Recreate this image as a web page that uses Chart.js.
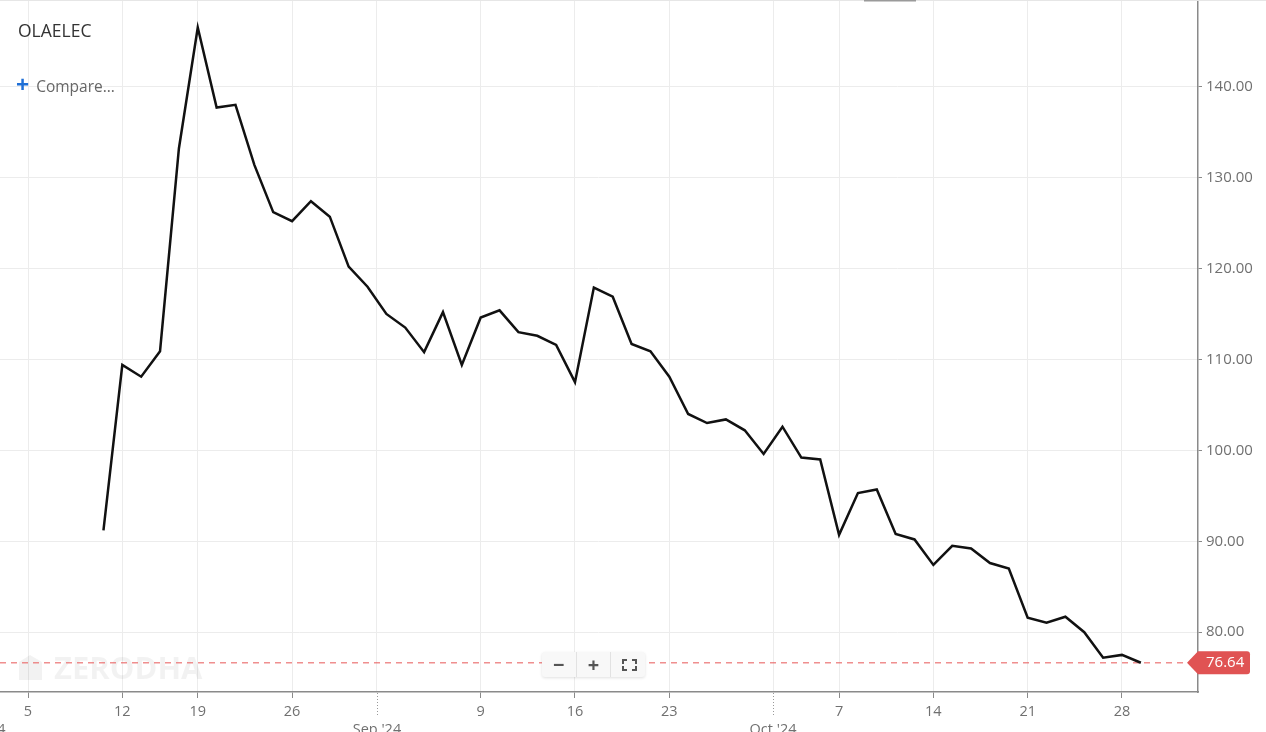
<!DOCTYPE html>
<html>
<head>
<meta charset="utf-8">
<script src="https://cdn.jsdelivr.net/npm/chart.js@4.4.1/dist/chart.umd.min.js"></script>
<style>
  body { margin: 0; background: #fff; font-family: 'Open Sans', sans-serif; }
  #wrap { position: relative; width: 1266px; height: 732px; overflow: hidden; }
  #sym { position: absolute; left: 18px; top: 18px; font-size: 17.5px; color: #333; line-height: 24px; }
  #cmp { position: absolute; left: 16px; top: 73px; font-size: 15.5px; color: #666; line-height: 22px; }
  #cmp b { color: #1f6fd6; font-size: 23px; margin-right: 7px; font-weight: 700; vertical-align: -1px; }
  #zoomer { position: absolute; left: 542px; top: 652px; width: 103px; height: 25px; background: #f8f8f8;
    border-radius: 3px; box-shadow: 0 1px 3px rgba(0,0,0,0.12); display: flex; }
  #zoomer span { flex: 1; text-align: center; font-size: 20px; line-height: 25px; font-weight: 700; color: #555; }
  #zoomer span + span { border-left: 1px solid #e2e2e2; }
  .fs { position: relative; }
  .fs i { position: absolute; width: 3px; height: 3px; border: 0 solid #555; }
</style>
</head>
<body>
<div id="wrap">
  <canvas id="chart" width="1266" height="732"></canvas>
  <div id="sym">OLAELEC</div>
  <div id="cmp"><b>+</b>Compare...</div>
  <div id="zoomer">
    <span>&minus;</span><span>+</span>
    <span class="fs">
      <i style="left:11px;top:7px;border-left-width:2px;border-top-width:2px"></i>
      <i style="left:21px;top:7px;border-right-width:2px;border-top-width:2px"></i>
      <i style="left:11px;top:14px;border-left-width:2px;border-bottom-width:2px"></i>
      <i style="left:21px;top:14px;border-right-width:2px;border-bottom-width:2px"></i>
    </span>
  </div>
</div>
<script>
// sessions before listing, only used to place the axis ticks
const preListing = ['2024-07-31', '2024-08-01', '2024-08-02', '2024-08-05', '2024-08-06', '2024-08-07', '2024-08-08']

const tradeDates = [
    '2024-08-09', '2024-08-12', '2024-08-13', '2024-08-14', '2024-08-16', '2024-08-19', '2024-08-20', '2024-08-21',
    '2024-08-22', '2024-08-23', '2024-08-26', '2024-08-27', '2024-08-28', '2024-08-29', '2024-08-30',
    '2024-09-02', '2024-09-03', '2024-09-04', '2024-09-05', '2024-09-06', '2024-09-09', '2024-09-10',
    '2024-09-11', '2024-09-12', '2024-09-13', '2024-09-16', '2024-09-17', '2024-09-18', '2024-09-19',
    '2024-09-20', '2024-09-23', '2024-09-24', '2024-09-25', '2024-09-26', '2024-09-27', '2024-09-30',
    '2024-10-01', '2024-10-03', '2024-10-04', '2024-10-07', '2024-10-08', '2024-10-09', '2024-10-10',
    '2024-10-11', '2024-10-14', '2024-10-15', '2024-10-16', '2024-10-17', '2024-10-18', '2024-10-21',
    '2024-10-22', '2024-10-23', '2024-10-24', '2024-10-25', '2024-10-28', '2024-10-29'
]

const closes = [
    91.2, 109.4, 108.1, 110.9, 133.2, 146.5, 137.7, 138.0,
    131.4, 126.2, 125.2, 127.4, 125.7, 120.2, 118.0,
    115.0, 113.5, 110.8, 115.2, 109.4, 114.6, 115.4,
    113.0, 112.6, 111.6, 107.5, 117.9, 116.9, 111.7,
    110.9, 108.1, 104.0, 103.0, 103.4, 102.2, 99.6,
    102.6, 99.2, 99.0, 90.7, 95.3, 95.7, 90.8,
    90.2, 87.4, 89.5, 89.2, 87.6, 87.0, 81.6,
    81.05, 81.7, 80.0, 77.2, 77.5, 76.64
]

const priceTicks = [80, 90, 100, 110, 120, 130, 140]
const monthNames = ['Jan', 'Feb', 'Mar', 'Apr', 'May', 'Jun', 'Jul', 'Aug', 'Sep', 'Oct', 'Nov', 'Dec']
const symbol = 'OLAELEC'

const sessions = preListing.concat(tradeDates)
const lastClose = closes[closes.length - 1]

// month boundaries sit between sessions, weekly ticks on Mondays
let monthTicks = []
let weekTicks = []
let tickLabels = new Map()
sessions.forEach(function(d, k) {
    let dt = new Date(d)
    if (k > 0 && new Date(sessions[k - 1]).getUTCMonth() !== dt.getUTCMonth()) {
        let v = k - 0.5
        monthTicks.push(v)
        tickLabels.set(v, ['', monthNames[dt.getUTCMonth()] + " '" + String(dt.getUTCFullYear()).slice(2)])
    }
})
sessions.forEach(function(d, k) {
    let dt = new Date(d)
    if (dt.getUTCDay() !== 1) return
    if (monthTicks.some(function(m) { return Math.abs(m - k) < 1 })) return
    weekTicks.push(k)
    tickLabels.set(k, String(dt.getUTCDate()))
})
const xTicks = monthTicks.concat(weekTicks).sort(function(a, b) { return a - b })

const points = closes.map(function(c, i) {
    return { x: preListing.length + i, y: c }
})

const font = "'Open Sans', sans-serif"

const decor = {
    id: 'decor',
    beforeDatasetsDraw(chart) {
        let ctx = chart.ctx
        let area = chart.chartArea
        let y = chart.scales.y.getPixelForValue(lastClose)
        ctx.save()
        // watermark
        ctx.fillStyle = 'rgba(0,0,0,0.05)'
        ctx.beginPath()
        ctx.moveTo(19, 680); ctx.lineTo(19, 662); ctx.lineTo(30, 655); ctx.lineTo(42, 662)
        ctx.lineTo(42, 680); ctx.closePath(); ctx.fill()
        ctx.font = 'bold 31px ' + font
        ctx.textBaseline = 'alphabetic'
        ctx.fillText('ZERODHA', 54, 679)
        // last price line
        ctx.strokeStyle = 'rgba(232,96,96,0.7)'
        ctx.lineWidth = 1.5
        ctx.setLineDash([6, 5])
        ctx.beginPath()
        ctx.moveTo(area.left, y)
        ctx.lineTo(1188, y)
        ctx.stroke()
        ctx.restore()
    },
    afterDraw(chart) {
        let ctx = chart.ctx
        let xs = chart.scales.x
        let y = chart.scales.y.getPixelForValue(lastClose)
        ctx.save()
        // top border and handle
        ctx.fillStyle = '#e6e6e6'
        ctx.fillRect(0, 0, 1266, 1)
        ctx.fillStyle = '#9a9a9a'
        ctx.fillRect(864, 0, 52, 1.5)
        // dotted month ticks
        ctx.strokeStyle = '#999'
        ctx.lineWidth = 1
        ctx.setLineDash([1, 2])
        monthTicks.forEach(function(v) {
            let px = Math.round(xs.getPixelForValue(v)) + 0.5
            ctx.beginPath()
            ctx.moveTo(px, xs.top + 1)
            ctx.lineTo(px, xs.top + 24)
            ctx.stroke()
        })
        ctx.setLineDash([])
        // price tag
        ctx.fillStyle = '#e05353'
        ctx.beginPath()
        ctx.moveTo(1187, y)
        ctx.lineTo(1198, y - 11.5)
        ctx.lineTo(1247, y - 11.5)
        ctx.quadraticCurveTo(1250, y - 11.5, 1250, y - 8.5)
        ctx.lineTo(1250, y + 8.5)
        ctx.quadraticCurveTo(1250, y + 11.5, 1247, y + 11.5)
        ctx.lineTo(1198, y + 11.5)
        ctx.closePath()
        ctx.fill()
        ctx.fillStyle = '#fff'
        ctx.font = '15px ' + font
        ctx.textBaseline = 'middle'
        ctx.textAlign = 'left'
        ctx.fillText(lastClose.toFixed(2), 1206, y + 0.5)
        ctx.restore()
    }
}

const ctx = document.getElementById('chart').getContext('2d')
new Chart(ctx, {
    type: 'line',
    data: {
        datasets: [{
            label: symbol,
            data: points,
            borderColor: '#111',
            borderWidth: 2.5,
            pointRadius: 0,
            tension: 0,
            fill: false
        }]
    },
    options: {
        responsive: false,
        animation: false,
        layout: { padding: { top: 1, left: 0, right: 0, bottom: 0 } },
        plugins: { legend: { display: false }, tooltip: { enabled: false } },
        scales: {
            x: {
                type: 'linear',
                position: 'bottom',
                min: 1.515,
                max: 65.03,
                afterBuildTicks: function(s) {
                    s.ticks = xTicks.map(function(v) { return { value: v } })
                },
                afterFit: function(s) {
                    s.height = 40
                    s.paddingLeft = 0
                    s.paddingRight = 0
                },
                border: { display: true, color: '#8a8a8a', width: 1.5 },
                grid: {
                    color: '#ececec',
                    lineWidth: 1,
                    tickLength: 6,
                    tickColor: function(c) {
                        return c.tick && monthTicks.indexOf(c.tick.value) >= 0 ? 'rgba(0,0,0,0)' : '#8a8a8a'
                    }
                },
                ticks: {
                    autoSkip: false,
                    maxRotation: 0,
                    padding: 4,
                    color: '#707070',
                    font: { family: font, size: 14.5, lineHeight: 1.3 },
                    callback: function(v) { return tickLabels.get(v) }
                }
            },
            y: {
                type: 'linear',
                position: 'right',
                min: 73.42,
                max: 149.42,
                afterBuildTicks: function(s) {
                    s.ticks = priceTicks.map(function(v) { return { value: v } })
                },
                afterFit: function(s) {
                    s.width = 68
                    s.paddingTop = 0
                    s.paddingBottom = 0
                },
                border: { display: true, color: '#8a8a8a', width: 1.5 },
                grid: { color: '#ececec', lineWidth: 1, tickLength: 4, tickColor: '#8a8a8a' },
                ticks: {
                    padding: 4,
                    color: '#707070',
                    font: { family: font, size: 15 },
                    callback: function(v) { return v.toFixed(2) }
                }
            }
        }
    },
    plugins: [decor]
})
</script>
</body>
</html>
